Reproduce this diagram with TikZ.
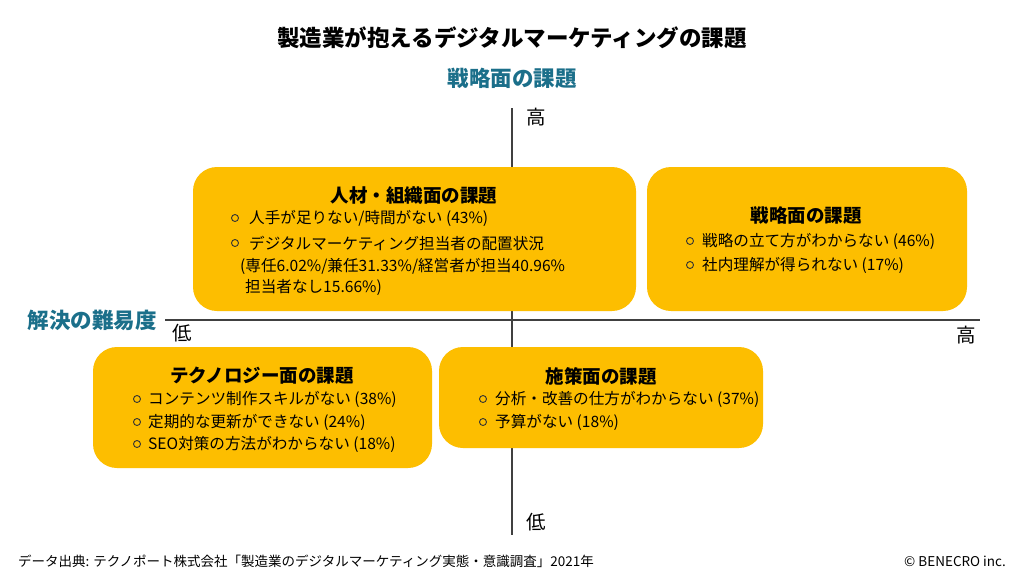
\documentclass[tikz,border=0pt]{standalone}
\usepackage{fontspec}
\setmainfont{Noto Sans CJK JP}
\definecolor{boxy}{HTML}{FDBE00}
\definecolor{tealc}{HTML}{1B6F8A}
\begin{document}
\begin{tikzpicture}[x=1pt,y=-1pt,
  qbox/.style={fill=boxy,rounded corners=24pt},
  ttl/.style={font=\fontsize{18.5}{20}\selectfont\bfseries},
  itm/.style={anchor=west,inner sep=0pt,font=\fontsize{15.6}{17}\selectfont},
  blt/.style={circle,draw=black!80,line width=0.9pt,minimum size=7pt,inner sep=0pt},
  ax/.style={font=\fontsize{19.5}{21}\selectfont}]
\useasboundingbox (0,0) rectangle (1024,576);
\fill[white] (0,0) rectangle (1024,576);
\node[font=\fontsize{22.5}{24}\selectfont\bfseries] (title) at (512,38) {製造業が抱えるデジタルマーケティングの課題};
\node[font=\fontsize{21.5}{23}\selectfont\bfseries,text=tealc] (top) at (512,78) {戦略面の課題};
\coordinate (vt) at (512,108); \coordinate (vb) at (512,535);
\coordinate (hl) at (165,320); \coordinate (hr) at (980,320);
\draw[line width=1.2pt,black!75] (vt) -- (vb);
\draw[line width=1.2pt,black!75] (hl) -- (hr);
\node[ax] (hi1) at (536,117) {高};
\node[ax] (lo1) at (536,522) {低};
\node[ax] (lo2) at (182,333) {低};
\node[ax] (hi2) at (966,335) {高};
\node[font=\fontsize{21.5}{23}\selectfont\bfseries,text=tealc] (lbl) at (92,320) {解決の難易度};
% boxes
\fill[qbox] (193,167) rectangle (636,311);
\fill[qbox] (647,167) rectangle (967,311);
\fill[qbox] (93,347) rectangle (432,468);
\fill[qbox] (439,347) rectangle (763,448);
% box1
\node[ttl] (t1) at (414,196) {人材・組織面の課題};
\node[blt] (b11) at (235,218) {}; \node[itm] (i11) at (249,218) {人手が足りない/時間がない (43\%)};
\node[blt] (b12) at (235,243) {}; \node[itm] (i12) at (249,243) {デジタルマーケティング担当者の配置状況};
\node[itm] (i13) at (240,266) {(専任6.02\%/兼任31.33\%/経営者が担当40.96\%};
\node[itm] (i14) at (245,287) {担当者なし15.66\%)};
% box2
\node[ttl] (t2) at (806,216) {戦略面の課題};
\node[blt] (b21) at (690,241) {}; \node[itm] (i21) at (702,241) {戦略の立て方がわからない (46\%)};
\node[blt] (b22) at (690,265) {}; \node[itm] (i22) at (702,265) {社内理解が得られない (17\%)};
% box3
\node[ttl] (t3) at (262,376) {テクノロジー面の課題};
\node[blt] (b31) at (137,399) {}; \node[itm] (i31) at (148,399) {コンテンツ制作スキルがない (38\%)};
\node[blt] (b32) at (137,422) {}; \node[itm] (i32) at (148,422) {定期的な更新ができない (24\%)};
\node[blt] (b33) at (137,444) {}; \node[itm] (i33) at (148,444) {SEO対策の方法がわからない (18\%)};
% box4
\node[ttl] (t4) at (601,376) {施策面の課題};
\node[blt] (b41) at (483,399) {}; \node[itm] (i41) at (495,399) {分析・改善の仕方がわからない (37\%)};
\node[blt] (b42) at (483,422) {}; \node[itm] (i42) at (495,422) {予算がない (18\%)};
% footer
\node[anchor=west,inner sep=0pt,font=\fontsize{13.5}{15}\selectfont] (src) at (18,561) {データ出典: テクノポート株式会社「製造業のデジタルマーケティング実態・意識調査」2021年};
\node[anchor=east,inner sep=0pt,font=\fontsize{13.5}{15}\selectfont] (cr) at (1006,561) {© BENECRO inc.};
\end{tikzpicture}
\end{document}
